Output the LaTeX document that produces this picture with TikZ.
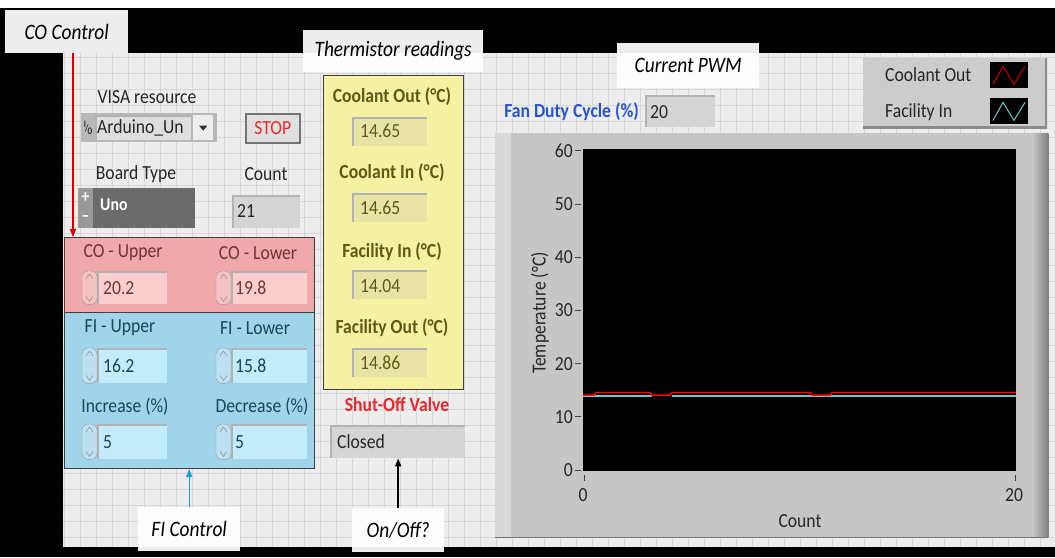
\documentclass[tikz,border=0pt]{standalone}
\usepackage{fontspec}
\setmainfont[FakeStretch=0.88]{Carlito}
\usetikzlibrary{arrows.meta}

% front panel colours
\definecolor{panelbg}{RGB}{237,237,237}
\definecolor{gridln}{RGB}{214,214,214}
\definecolor{cofill}{RGB}{241,168,170}
\definecolor{covalue}{RGB}{250,206,207}
\definecolor{cotext}{RGB}{110,52,56}
\definecolor{fifill}{RGB}{160,212,234}
\definecolor{fivalue}{RGB}{195,236,250}
\definecolor{fitext}{RGB}{28,68,86}
\definecolor{thfill}{RGB}{244,241,162}
\definecolor{thvalue}{RGB}{230,227,164}
\definecolor{thtext}{RGB}{92,90,22}
\definecolor{indgrey}{RGB}{212,212,212}
\definecolor{framegrey}{RGB}{198,198,198}
\definecolor{labelblue}{RGB}{38,84,205}
\definecolor{valvered}{RGB}{236,38,44}
\definecolor{cyantrace}{RGB}{110,200,200}
\definecolor{fiarrow}{RGB}{26,160,222}

\begin{document}
\begin{tikzpicture}[x=1pt, y=-1pt, >={Triangle[length=8pt, width=6pt]},
    txt/.style={inner sep=0pt, font=\fontsize{20}{22}\selectfont, text=black!85},
    bold/.style={inner sep=0pt, font=\fontsize{20}{22}\selectfont\bfseries},
    note/.style={fill=white, fill opacity=0.93, text opacity=1, inner sep=0pt, anchor=north west,
        font=\fontsize{22}{24}\selectfont\itshape},
    box/.style 2 args={anchor=north west, inner sep=0pt, minimum width=#1, minimum height=#2},
    sunken/.style={path picture={\draw[black!30, line width=3pt]
        (path picture bounding box.south west) -- (path picture bounding box.north west)
        -- (path picture bounding box.north east);}},
    raised/.style={path picture={\draw[black!45, line width=4pt]
        (path picture bounding box.north east) -- (path picture bounding box.south east)
        -- (path picture bounding box.south west);}},
    cluster/.style={draw=black!75, line width=1pt},
]
\useasboundingbox (0,0) rectangle (1055,557);

% panel and grid
\fill[white] (0,0) rectangle (1055,8);
\fill[black] (0,8) rectangle (1055,557);
\fill[panelbg] (63,53) rectangle (1055,547);
\foreach \gx in {64,80,...,1055} \draw[gridln, line width=0.8pt] (\gx,53) -- (\gx,547);
\foreach \gy in {57,73,...,547} \draw[gridln, line width=0.8pt] (63,\gy) -- (1055,\gy);

% VISA resource and stop button
\node (visalbl) [txt] at (147,97) {VISA resource};
\node (visa) [box={136pt}{29pt}, fill=black!28] at (81,113) {};
\node (visafield) [box={96pt}{25pt}, fill=black!13, sunken] at (95,115) {};
\node (visatext) [txt, anchor=west] at (97,128) {Arduino\_Un};
\node (visabtn) [box={20pt}{25pt}, fill=black!7] at (193,115) {};
\fill[black!80] ([xshift=-4pt, yshift=2pt]visabtn.center) -- ([xshift=4pt, yshift=2pt]visabtn.center)
    -- ([yshift=-3pt]visabtn.center) -- cycle;
\node (visaio) [inner sep=0pt, font=\fontsize{10}{10}\selectfont] at (88,128)
    {\raisebox{4pt}{I}\kern-1pt/\kern-1pt\raisebox{-3pt}{0}};
\node (stop) [box={54pt}{29pt}, fill=black!12, draw=black!55, line width=1.5pt] at (245,113) {};
\node (stoptext) [txt, text=valvered] at (stop.center) {STOP};

% board type and count
\node (boardlbl) [txt] at (136,174) {Board Type};
\node (board) [box={117pt}{40pt}, fill=black!58] at (78,188) {};
\node (boardinc) [box={15pt}{40pt}, fill=black!40] at (78,188) {};
\node (boardplus) [inner sep=0pt, text=white, font=\fontsize{18}{18}\selectfont\bfseries] at (85.5,198) {+};
\node (boardminus) [inner sep=0pt, text=white, font=\fontsize{18}{18}\selectfont\bfseries] at (85.5,219) {--};
\node (boardtext) [inner sep=0pt, text=white, font=\fontsize{18}{20}\selectfont\bfseries, anchor=west] at (100,205) {Uno};
\node (countlbl) [txt] at (266,174) {Count};
\node (count) [box={68pt}{33pt}, fill=indgrey, sunken] at (232,195) {};
\node (counttext) [txt, anchor=west] at (237,211) {21};

% CO limits
\node (cobox) [box={250pt}{75pt}, fill=cofill, cluster] at (64,237) {};
\node (coulbl) [txt, text=cotext] at (123,253) {CO - Upper};
\node (colbl) [txt, text=cotext] at (258,253) {CO - Lower};
\node (cou) [box={70pt}{33pt}, fill=covalue, sunken] at (97,271) {};
\node (col) [box={76pt}{33pt}, fill=covalue, sunken] at (231,271) {};
\node (coutext) [txt, text=cotext, anchor=west] at (103,288) {20.2};
\node (coltext) [txt, text=cotext, anchor=west] at (235,288) {19.8};

% FI limits and steps
\node (fibox) [box={250pt}{156pt}, fill=fifill, cluster] at (64,312) {};
\node (fiulbl) [txt, text=fitext] at (120,328) {FI - Upper};
\node (fillbl) [txt, text=fitext] at (255,328) {FI - Lower};
\node (fiu) [box={70pt}{35pt}, fill=fivalue, sunken] at (97,348) {};
\node (fil) [box={76pt}{35pt}, fill=fivalue, sunken] at (231,348) {};
\node (fiutext) [txt, text=fitext, anchor=west] at (103,366) {16.2};
\node (filtext) [txt, text=fitext, anchor=west] at (235,366) {15.8};
\node (inclbl) [txt, text=fitext] at (125,407) {Increase (\%)};
\node (declbl) [txt, text=fitext] at (262,407) {Decrease (\%)};
\node (inc) [box={70pt}{35pt}, fill=fivalue, sunken] at (97,424) {};
\node (dec) [box={76pt}{35pt}, fill=fivalue, sunken] at (231,424) {};
\node (inctext) [txt, text=fitext, anchor=west] at (103,442) {5};
\node (dectext) [txt, text=fitext, anchor=west] at (235,442) {5};

% increment/decrement arrows beside each control
\foreach \b in {cou,col,fiu,fil,inc,dec} {
    \draw[black!40, fill=white, fill opacity=0.3, rounded corners=6pt]
        ([xshift=-15pt]\b.north west) rectangle (\b.south west);
    \draw[black!50] ([shift={(-11pt,-8pt)}]\b.north west) -- ([shift={(-7.5pt,-3pt)}]\b.north west)
        -- ([shift={(-4pt,-8pt)}]\b.north west);
    \draw[black!50] ([shift={(-11pt,8pt)}]\b.south west) -- ([shift={(-7.5pt,3pt)}]\b.south west)
        -- ([shift={(-4pt,8pt)}]\b.south west);
}

% thermistor indicators
\node (thbox) [box={140pt}{314pt}, fill=thfill, cluster] at (323,75) {};
\node (cotlbl) [bold, text=thtext] at (392,97) {Coolant Out (°C)};
\node (cot) [box={75pt}{29pt}, fill=thvalue, sunken] at (352,117) {};
\node (cottext) [txt, text=thtext, anchor=west] at (360,131) {14.65};
\node (citlbl) [bold, text=thtext] at (392,173) {Coolant In (°C)};
\node (cit) [box={75pt}{29pt}, fill=thvalue, sunken] at (352,193) {};
\node (cittext) [txt, text=thtext, anchor=west] at (360,208) {14.65};
\node (fitlbl) [bold, text=thtext] at (392,252) {Facility In (°C)};
\node (fit) [box={75pt}{29pt}, fill=thvalue, sunken] at (352,270) {};
\node (fittext) [txt, text=thtext, anchor=west] at (360,286) {14.04};
\node (fotlbl) [bold, text=thtext] at (392,328) {Facility Out (°C)};
\node (fot) [box={75pt}{29pt}, fill=thvalue, sunken] at (352,348) {};
\node (fottext) [txt, text=thtext, anchor=west] at (360,363) {14.86};

% shut-off valve
\node (valvelbl) [bold, text=valvered] at (397,405) {Shut-Off Valve};
\node (valve) [box={135pt}{33pt}, fill=indgrey, sunken] at (330,425) {};
\node (valvetext) [txt, anchor=west] at (337,442) {Closed};

% fan duty cycle
\node (fanlbl) [bold, text=labelblue, anchor=east] at (639,112) {Fan Duty Cycle (\%)};
\node (fan) [box={70pt}{32pt}, fill=indgrey, sunken] at (645,95) {};
\node (fantext) [txt, anchor=west] at (650,112) {20};

% plot legend
\node (legend) [box={184pt}{70pt}, fill=black!20, raised] at (863,58) {};
\node (legco) [txt, anchor=west] at (885,75) {Coolant Out};
\node (legfi) [txt, anchor=west] at (885,112) {Facility In};
\node (swco) [box={38pt}{26pt}, fill=black] at (990,62) {};
\node (swfi) [box={38pt}{26pt}, fill=black] at (990,98) {};
\draw[red!80!black, line width=1pt] ([shift={(3pt,4pt)}]swco.south west) -- ([shift={(13pt,22pt)}]swco.south west)
    -- ([shift={(24pt,4pt)}]swco.south west) -- ([shift={(35pt,22pt)}]swco.south west);
\draw[cyantrace, line width=1pt] ([shift={(3pt,4pt)}]swfi.south west) -- ([shift={(13pt,22pt)}]swfi.south west)
    -- ([shift={(24pt,4pt)}]swfi.south west) -- ([shift={(35pt,22pt)}]swfi.south west);

% temperature chart
\node (graph) [box={553pt}{404pt}, fill=framegrey] at (495,133) {};
\fill[black!15] (graph.north west) rectangle ([xshift=16pt]graph.south west);
\shade[left color=framegrey, right color=black!50] ([xshift=-16pt]graph.north east) rectangle (graph.south east);
\draw[black!55, line width=1.5pt] (graph.south west) -- (graph.south east);
\node (plot) [box={433pt}{322pt}, fill=black] at (583,149) {};
\foreach \v in {0,10,...,60} {
    \node (ytick\v) [txt, anchor=east] at (573,{470-5.32*\v}) {\v};
    \draw[black!75, line width=1pt] (575,{470-5.32*\v}) -- (581,{470-5.32*\v});
}
\draw[black!75, line width=1pt] (584,475) -- (584,481);
\draw[black!75, line width=1pt] (1015,475) -- (1015,481);
\node (xtick0) [txt] at (583,495) {0};
\node (xtick20) [txt] at (1014,495) {20};
\node (xlbl) [txt] at (800,521) {Count};
\node (ylbl) [txt, rotate=90] at (540,313) {Temperature (°C)};
\draw[cyantrace, line width=1.5pt] (583,396) -- (652,396);
\draw[cyantrace, line width=1.5pt] (672,396) -- (1016,396);
\draw[red, line width=1.5pt] (583,395) -- (594,395) -- (596,392.5) -- (650,392.5) -- (652,395)
    -- (670,395) -- (672,392.5) -- (810,392.5) -- (812,395) -- (830,395) -- (832,392.5) -- (1016,392.5);

% callouts
\node (coctl) [note, minimum width=123pt, minimum height=43pt] at (5,10) {CO Control};
\node (thlbl) [note, minimum width=180pt, minimum height=42pt] at (303,30) {Thermistor readings};
\node (pwmlbl) [note, minimum width=142pt, minimum height=45pt] at (617,43) {Current PWM};
\node (filbl) [note, minimum width=102pt, minimum height=44pt] at (138,507) {FI Control};
\node (onofflbl) [note, minimum width=92pt, minimum height=44pt] at (352,508) {On/Off?};

\coordinate (coarrow) at ([xshift=9pt]cobox.north west);
\draw[->, red!85!black, line width=1.2pt] (coarrow |- coctl.south) -- (coarrow);
\draw[->, fiarrow, line width=1.2pt] (filbl.north) -- (filbl.north |- fibox.south);
\draw[->, black, line width=1.5pt] (onofflbl.north) -- (onofflbl.north |- valve.south);
\end{tikzpicture}
\end{document}
